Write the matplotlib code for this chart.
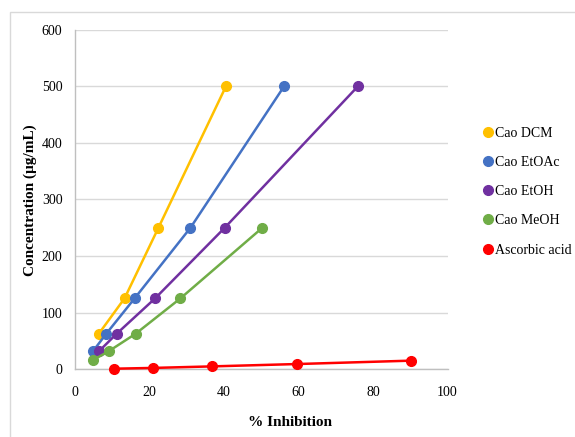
import matplotlib
matplotlib.use("Agg")
import matplotlib.pyplot as plt
from matplotlib.patches import Rectangle
from matplotlib.lines import Line2D

plt.rcParams['font.family'] = ['Liberation Serif', 'DejaVu Serif']

series_names = ["Cao DCM", "Cao EtOAc", "Cao EtOH", "Cao MeOH", "Ascorbic acid"]
series_colors = ["#FFC000", "#4472C4", "#7030A0", "#70AD47", "#FF0000"]

dcm_x = [6.4, 13.3, 22.4, 40.5]
dcm_y = [62.5, 125, 250, 500]
etoac_x = [4.8, 8.4, 16.0, 31.0, 56.1]
etoac_y = [31.25, 62.5, 125, 250, 500]
etoh_x = [6.4, 11.2, 21.5, 40.2, 75.9]
etoh_y = [31.25, 62.5, 125, 250, 500]
meoh_x = [4.8, 9.0, 16.3, 28.3, 50.3]
meoh_y = [15.625, 31.25, 62.5, 125, 250]
asc_x = [10.4, 20.9, 36.7, 59.7, 90.3]
asc_y = [0.5, 1.9, 4.6, 8.8, 14.8]

x_ticks = [0, 20, 40, 60, 80, 100]
y_ticks = [0, 100, 200, 300, 400, 500, 600]
x_label = "% Inhibition"
y_label = "Concentration (µg/mL)"

W, H = 575, 437
fig = plt.figure(figsize=(W / 100, H / 100), dpi=100)
ax = fig.add_axes([75 / W, 1 - 369 / H, (447.5 - 75) / W, (369 - 30) / H])

data = [(dcm_x, dcm_y), (etoac_x, etoac_y), (etoh_x, etoh_y), (meoh_x, meoh_y), (asc_x, asc_y)]
handles = []
for (xs, ys), name, c in zip(data, series_names, series_colors):
    ax.plot(xs, ys, color=c, lw=1.8, marker='o', ms=7, zorder=3, clip_on=False)
    handles.append(Line2D([], [], ls='none', marker='o', ms=7, color=c, label=name))

ax.set_xlim(0, 100)
ax.set_ylim(0, 600)
ax.set_xticks(x_ticks)
ax.set_yticks(y_ticks)
ax.tick_params(length=0, labelsize=10)
ax.tick_params(axis='y', pad=9)
ax.tick_params(axis='x', pad=12)
ax.grid(axis='y', color='#D9D9D9', lw=1)
ax.set_axisbelow(True)
for s in ['top', 'right']:
    ax.spines[s].set_visible(False)
for s in ['left', 'bottom']:
    ax.spines[s].set_color('#BFBFBF')
    ax.spines[s].set_linewidth(1)

fig.text(290 / W, 1 - 423 / H, x_label, ha='center', va='center', fontsize=11, fontweight='bold')
fig.text(30 / W, 1 - 200 / H, y_label, ha='center', va='center', rotation=90, fontsize=11, fontweight='bold')

leg = fig.legend(handles=handles, loc='upper left', bbox_to_anchor=(478 / W, 1 - 121 / H),
                 frameon=False, fontsize=10, handlelength=0.6, handletextpad=0.25,
                 labelspacing=1.17, borderaxespad=0)

fig.patches.append(Rectangle((10 / W, -0.1), 1.2, (H - 12) / H + 0.1, transform=fig.transFigure,
                             fill=False, edgecolor='#D9D9D9', lw=1))

fig.savefig("out.png", dpi=100)
